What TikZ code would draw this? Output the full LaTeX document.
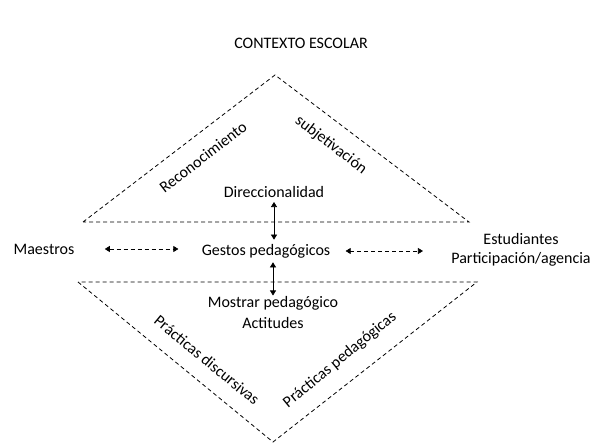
\documentclass[tikz,border=0pt]{standalone}
\usepackage{fontspec}
\setmainfont{Carlito}
\usetikzlibrary{arrows.meta}

\begin{document}
\begin{tikzpicture}[x=1pt,y=-1pt,
  thick,label node/.style={font=\fontsize{16}{19}\selectfont,inner sep=1pt},
  side/.style={dash pattern=on 4pt off 3pt,thick},
  punta/.style={{Triangle[length=5pt,width=6pt]}-{Triangle[length=5pt,width=6pt]},semithick},
  flecha/.style={punta,dash pattern=on 4pt off 3pt}]

  \useasboundingbox (0,0) rectangle (595,443);

  \node[label node] (titulo) at (301,43) {CONTEXTO ESCOLAR};

  % triangles
  \coordinate (t1) at (83,222);
  \coordinate (t2) at (275,75);
  \coordinate (t3) at (469,222);
  \coordinate (b1) at (78,282);
  \coordinate (b2) at (273,442);
  \coordinate (b3) at (477,282);
  \draw[side] (t1) -- (t2) -- (t3) -- cycle;
  \draw[side] (b1) -- (b2) -- (b3) -- cycle;

  \node[label node] (maestros) at (44,249) {Maestros};
  \node[label node] (gestos) at (266,251) {Gestos pedagógicos};
  \node[label node,align=center] (estudiantes) at (521,250) {Estudiantes\\Participación/agencia};
  \node[label node] (direc) at (274,192) {Direccionalidad};
  \node[label node,align=center] (mostrar) at (273,313) {Mostrar pedagógico\\[2pt]Actitudes};

  \node[label node,rotate=37.5] (recon) at (203,157) {Reconocimiento};
  \node[label node,rotate=-37.5] (subje) at (331,145) {subjetivación};
  \node[label node,rotate=-39.5] (discur) at (207,360) {Prácticas discursivas};
  \node[label node,rotate=39.5] (pedag) at (340,360) {Prácticas pedagógicas};

  \path[flecha]
   (maestros.east) edge[shorten <=29pt,shorten >=22pt] (maestros.east -| gestos.west)
   (gestos.east) edge[shorten <=14pt,shorten >=27pt] (gestos.east -| estudiantes.west);
  \path[punta]
   (direc.south) edge[shorten <=3pt,shorten >=3pt] (direc.south |- gestos.north)
   (mostrar.north |- gestos.south) edge[shorten <=3pt] (mostrar.north);
\end{tikzpicture}
\end{document}
